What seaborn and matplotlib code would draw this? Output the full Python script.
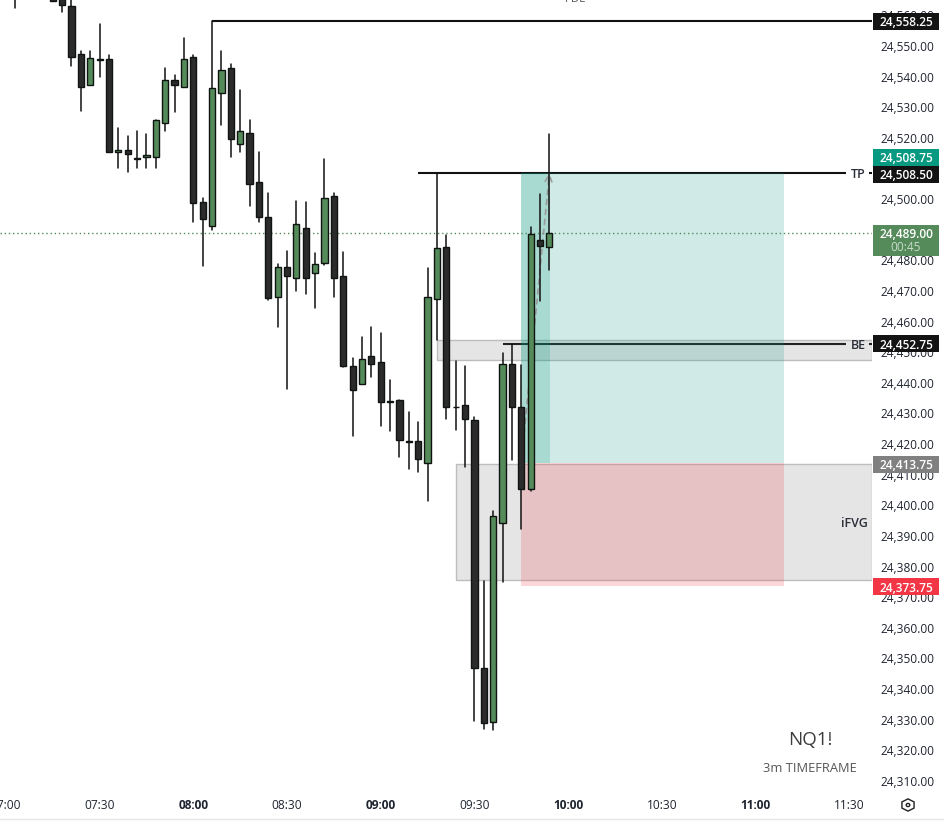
import matplotlib
matplotlib.use("Agg")
import matplotlib.pyplot as plt
import pandas as pd
import seaborn as sns
from matplotlib.lines import Line2D
from matplotlib.patches import Rectangle, RegularPolygon, Circle

# bars counted from the 08:00 candle, 3 minutes each
bar_index = [-19, -15, -14, -13, -12, -11, -10, -9, -8, -7, -6, -5, -4, -3, -2, -1,
             0, 1, 2, 3, 4, 5, 6, 7, 8, 9, 10, 11, 12, 13, 14, 15, 16, 17, 18, 19,
             20, 21, 22, 23, 24, 25, 26, 27, 28, 29, 30, 31, 32, 33, 34, 35, 36, 37, 38]
opens = [24580, 24575, 24568, 24563, 24547.25, 24537.25, 24545.75, 24545.75, 24515.25, 24516, 24513.5, 24513.75, 24513.75, 24525, 24539, 24536.75,
         24546.25, 24499, 24491.25, 24534.75, 24542.75, 24518, 24521.75, 24505.5, 24494.25, 24468, 24477.75, 24474.25, 24490.5, 24476, 24479, 24501, 24475, 24445.5, 24439.75, 24448.75,
         24446.75, 24434, 24434.5, 24421, 24421, 24413.75, 24467.5, 24484.5, 24432.25, 24432.75, 24428, 24346.75, 24329.25, 24394.25, 24446.25, 24432.25, 24405.5, 24486.75, 24484.5]
highs = [24590, 24578, 24572, 24570, 24548.25, 24548.5, 24557.25, 24547, 24523.25, 24520.5, 24522.25, 24521.25, 24525.75, 24542.75, 24540.5, 24552.5,
         24547, 24500.5, 24558.25, 24548.25, 24544, 24535.75, 24525.75, 24515.25, 24502, 24478.75, 24483, 24499.25, 24499, 24482.25, 24513, 24502, 24482.75, 24448, 24455, 24458.25,
         24456.25, 24441, 24434.5, 24430.5, 24427.25, 24477.5, 24508.25, 24488.25, 24447, 24445.5, 24429, 24375.25, 24398.25, 24449.75, 24452.75, 24445.75, 24491, 24501.75, 24521.25]
lows = [24562.5, 24564.75, 24561, 24543.5, 24528.75, 24537.25, 24540, 24515.25, 24510, 24509, 24510.25, 24510.25, 24510.25, 24522.25, 24528.5, 24536.75,
        24492.5, 24478, 24490, 24524.25, 24513.75, 24515.5, 24497.75, 24492.5, 24467, 24458.25, 24438, 24470, 24469, 24464.5, 24478.5, 24468, 24445.25, 24422.5, 24439.5, 24442,
        24426, 24424.25, 24415.75, 24412, 24410.75, 24401.5, 24454, 24428.25, 24424.75, 24412.5, 24329.75, 24327, 24326.75, 24375, 24414.75, 24392.25, 24404.75, 24466.75, 24477]
closes = [24572, 24564.75, 24563.5, 24546.5, 24536.75, 24546, 24545.5, 24515.25, 24516, 24514.75, 24513.25, 24514.5, 24525.75, 24538.75, 24537.25, 24545.75,
          24498.75, 24493.5, 24536.25, 24542, 24519.75, 24522.25, 24505, 24494, 24467.75, 24477.75, 24475, 24491.75, 24474.25, 24478.75, 24500.25, 24474.25, 24445.5, 24437.75, 24447.75, 24446.25,
          24433.75, 24433.75, 24421.5, 24420.75, 24415.25, 24468, 24484, 24432.25, 24432, 24428.25, 24347, 24329, 24396.5, 24446.25, 24432, 24405.5, 24488.75, 24484.75, 24489]

y_ticks = [24310, 24320, 24330, 24340, 24350, 24360, 24370, 24380, 24390, 24400, 24410, 24420, 24430,
           24440, 24450, 24460, 24470, 24480, 24490, 24500, 24510, 24520, 24530, 24540, 24550, 24560]
time_ticks = [-20, -10, 0, 10, 20, 30, 40, 50, 60, 70]
time_labels = ["07:00", "07:30", "08:00", "08:30", "09:00", "09:30", "10:00", "10:30", "11:00", "11:30"]
hour_labels = ["08:00", "09:00", "10:00", "11:00"]

pdl_price = 24558.25
tp_price = 24508.5
be_price = 24452.75
stop_price = 24373.75
entry_price = 24413.75
last_price = 24489
be_zone = [24447.6, 24453.9]
ifvg_zone = [24375.5, 24413.4]

tag_values = ["24,558.25", "24,508.75", "24,508.50", "24,489.00", "24,452.75", "24,413.75", "24,373.75"]
tag_centers = [24558.0, 24513.75, 24508.2, 24486.5, 24452.7, 24413.35, 24373.5]
tag_colors = ["#131313", "#089981", "#131313", "#558b5a", "#131313", "#808080", "#f23645"]

GREEN = "#558b5a"
DARK = "#2b2b2b"
EDGE = "#0f1410"
W, H = 944, 826
PRICE_PER_PX = 0.32653


def fx(px):
    return px / W


def fy(py):
    return 1 - py / H


sns.set_theme(style="white")
plt.rcParams["font.family"] = ["Open Sans", "DejaVu Sans"]

df = pd.DataFrame({"bar": bar_index, "open": opens, "high": highs, "low": lows, "close": closes})
df["top"] = df[["open", "close"]].max(axis=1)
df["bottom"] = df[["open", "close"]].min(axis=1)
df["up"] = df["close"] > df["open"]
wicks = df.melt(id_vars="bar", value_vars=["high", "low"], value_name="price")

fig = plt.figure(figsize=(W / 100, H / 100), dpi=100)
ax = fig.add_axes([0, fy(793), 872 / W, 793 / H])
ax.set_xlim(-20.63, 72.43)
ax.set_ylim(24306.08, 24565.02)

# zones, the position box goes over them
ax.axhspan(be_zone[0], be_zone[1], xmin=(26 + 20.63) / 93.06, facecolor="#e5e5e5", edgecolor="#bdbdbd", lw=1, zorder=1)
ax.axhspan(ifvg_zone[0], ifvg_zone[1], xmin=(28 + 20.63) / 93.06, facecolor="#e5e5e5", edgecolor="#bdbdbd", lw=1, zorder=1)

ax.plot([2, 72.43], [pdl_price, pdl_price], color="#111111", lw=1.5, zorder=1.5, solid_capstyle="butt")
ax.plot([24, 69.67], [tp_price, tp_price], color="#111111", lw=1.5, zorder=1.5, solid_capstyle="butt")
ax.plot([33, 69.67], [be_price, be_price], color="#222222", lw=1.5, zorder=1.5, solid_capstyle="butt")
ax.plot([72.1, 72.43], [tp_price, tp_price], color="#111111", lw=1.5, zorder=1.5, solid_capstyle="butt")
ax.plot([72.1, 72.43], [be_price, be_price], color="#222222", lw=1.5, zorder=1.5, solid_capstyle="butt")

ax.add_patch(Rectangle((35, entry_price), 28.05, tp_price - entry_price, fc="#089981", alpha=0.19, lw=0, zorder=2))
ax.add_patch(Rectangle((35, entry_price), 3.08, tp_price - entry_price, fc="#089981", alpha=0.2, lw=0, zorder=2))
ax.add_patch(Rectangle((35, stop_price), 28.05, entry_price - stop_price, fc="#f23645", alpha=0.2, lw=0, zorder=2))

ax.axhline(last_price, color=GREEN, lw=1, ls=(0, (1, 2)), zorder=2.2)

ax.annotate("", xy=(38, tp_price), xytext=(35, entry_price), zorder=2.3,
            arrowprops=dict(arrowstyle="->", color="#9a9a9a", lw=1.2, ls=(0, (3, 3)), mutation_scale=12, shrinkA=0, shrinkB=0))

# candles
sns.lineplot(data=wicks, x="bar", y="price", units="bar", estimator=None, sort=False,
             color="#111111", lw=1.1, legend=False, ax=ax, zorder=3)
for up_flag, colour in [(True, GREEN), (False, DARK)]:
    part = df[df["up"] == up_flag]
    ax.bar(part["bar"], part["top"] - part["bottom"], bottom=part["bottom"], width=0.66,
           color=colour, edgecolor=EDGE, linewidth=1.0, zorder=4)

ax.yaxis.tick_right()
ax.set_yticks(y_ticks)
ax.set_yticklabels([f"{v:,.2f}" for v in y_ticks], fontsize=8.6, color="#1f2430")
ax.set_xticks(time_ticks)
ax.set_xticklabels(time_labels, fontsize=8.6, color="#1f2430")
for lab in ax.get_xticklabels():
    if lab.get_text() in hour_labels:
        lab.set_fontweight("bold")
ax.tick_params(axis="y", length=0, pad=5.8, labelright=True)
ax.tick_params(axis="x", length=0, pad=4)
ax.set_xlabel("")
ax.set_ylabel("")
sns.despine(ax=ax, left=True, bottom=True, right=True, top=True)

# price tags on the scale
trans = ax.get_yaxis_transform()
tag_h = 17 * PRICE_PER_PX
for value, centre, colour in zip(tag_values, tag_centers, tag_colors):
    height = tag_h
    if value == "24,489.00":
        height = 31 * PRICE_PER_PX
    ax.add_patch(Rectangle((873 / 872, centre - height / 2), 66 / 872, height, transform=trans,
                           fc=colour, lw=0, clip_on=False, zorder=6))
    text_y = centre
    if value == "24,489.00":
        text_y = last_price
    ax.text(906 / 872, text_y, value, transform=trans, ha="center", va="center_baseline", color="white",
            fontsize=8.6, fontweight="semibold", zorder=7, clip_on=False)
ax.text(906 / 872, 24484.6, "00:45", transform=trans, ha="center", va="center_baseline", color="#c9dccb",
        fontsize=8.6, zorder=7, clip_on=False)

# drawing labels
ax.text(70.95, tp_price, "TP", ha="center", va="center_baseline", fontsize=9, color="#2a2e39", fontweight="semibold", zorder=7)
ax.text(70.95, be_price, "BE", ha="center", va="center_baseline", fontsize=9, color="#2a2e39", fontweight="semibold", zorder=7)
ax.text(70.6, 24394.6, "iFVG", ha="center", va="center_baseline", fontsize=9, color="#2a2e39", fontweight="semibold", zorder=7)
fig.text(fx(575), fy(-1), "PDL", ha="center", va="center", fontsize=8.2, color="#555555")

fig.text(fx(810), fy(740), "NQ1!", ha="center", va="center", fontsize=13.5, color="#3c3c3c")
fig.text(fx(810), fy(768), "3m TIMEFRAME", ha="center", va="center", fontsize=9.3, color="#555555")

fig.add_artist(Line2D([0, 1], [fy(819), fy(819)], color="#e6e8ee", lw=1, transform=fig.transFigure))

# settings icon bottom right
fig.add_artist(RegularPolygon((fx(908), fy(805)), 6, radius=7 / W, orientation=0, fill=False,
                              ec="#222222", lw=1, transform=fig.transFigure))
fig.add_artist(Circle((fx(908), fy(805)), 1.8 / W, fill=False, ec="#222222", lw=1, transform=fig.transFigure))

fig.savefig("out.png", dpi=100)
